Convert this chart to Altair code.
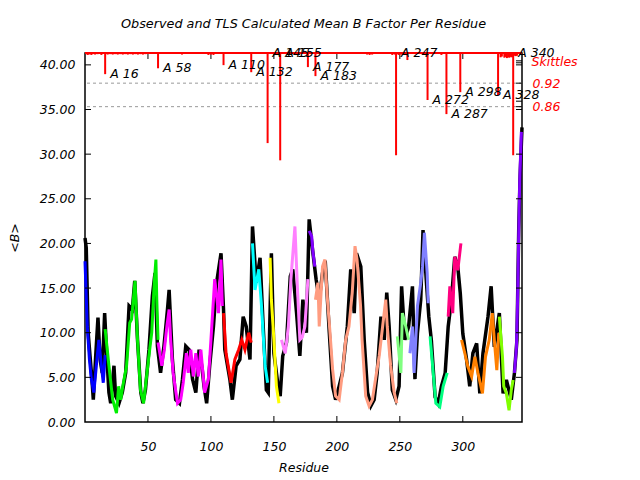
import altair as alt
import pandas as pd

# ---------------- data ----------------
obs_res = [0, 1, 2.5, 4, 5.5, 6.6, 8.5, 10.3, 12, 13.7, 15.6, 17.2, 19, 20.4, 23, 24.3, 27, 29.6, 32.3, 35,
           37.6, 39.5, 41.7, 44.3, 46, 48, 50.8, 53.5, 55.6, 57.5, 60, 62.7, 65.5, 66.8, 69.4, 72, 75, 77.4, 80, 82.7,
           85.4, 88, 90.6, 93, 94.5, 96.6, 99, 102, 104.5, 108, 110, 111, 115, 117, 120, 123, 125.6, 128, 131, 133,
           136, 139, 141.5, 144, 145.5, 148, 150, 153, 155, 157, 160, 163, 165, 168, 170.6, 173, 175.8, 178, 181, 183.5,
           186, 188.6, 191, 194, 196.6, 199, 201.8, 204.4, 208.3, 211, 213.8, 215.6, 219, 221.7, 224.4, 227, 229.6, 232, 235, 237.6,
           239.6, 241.5, 244, 246.8, 249.4, 251.4, 254, 257, 260, 262, 264, 266.6, 268.4, 271, 273, 275, 278, 280.5, 283, 286,
           288.4, 291, 293.6, 296, 298, 300, 303, 305.5, 308, 311, 313.5, 316, 320, 322.5, 325, 329, 332, 334.6, 338.5, 341,
           343, 344.4, 345.4, 347]
obs_b = [20.6, 19.5, 10, 7.4, 4.8, 2.5, 7.4, 11.7, 7, 5.5, 12.2, 7.7, 3.3, 2.1, 6.3, 2.9, 2.1, 3.3, 5.5, 13,
         12.6, 15.8, 9.2, 3.3, 2.1, 3.6, 8.1, 14.1, 16.7, 8.5, 5.5, 8.5, 12.6, 14.8, 7, 2.5, 2.1, 4.8, 8.5, 8.1,
         4.8, 3.3, 8.1, 6, 4, 2.1, 6.3, 10.7, 15.6, 18.9, 12.6, 8.1, 4.8, 2.5, 6.3, 7, 11.8, 10.7, 7, 21.9,
         15.6, 18.4, 10.7, 3.6, 3.3, 18.9, 7.7, 4.4, 2.9, 7.4, 8.9, 16.3, 17.1, 12.2, 7.4, 13.7, 10, 22.7, 18.9, 16,
         13.7, 16.7, 17.4, 10, 4, 2.5, 4, 5.5, 10.7, 17.1, 12.2, 18.9, 17.4, 9.2, 3.3, 1.8, 2.5, 5.5, 11.8, 9.2,
         14.5, 10.7, 3.6, 2.5, 4, 15.2, 9.2, 10.7, 15.2, 4.8, 10, 13.7, 21.5, 15.9, 11.8, 9.2, 2.8, 2.1, 4, 5.5,
         10.7, 13.7, 18.5, 17.4, 14.4, 9.9, 7, 4, 7.7, 8.8, 3.2, 7.7, 11.8, 15.2, 8.4, 12.2, 3.2, 4.7, 2.5, 5.5,
         9.2, 21.5, 27.1, 33]

group_names = ["A 1-16", "A 17-58", "A 59-110", "A 111-132", "A 133-145", "A 146-155", "A 156-177",
               "A 178-183", "A 184-247", "A 248-257", "A 258-272", "A 273-287", "A 288-298", "A 299-328",
               "A 329-340", "A 341-347"]
group_colors = ["#0000ff", "#00ee00", "#ff00ff", "#ff0000", "#00ffff", "#ffff00", "#ff80ff",
                "#8000ff", "#ff9c80", "#80ff80", "#8080ff", "#00ff80", "#ff0080", "#ff8000",
                "#80ff00", "#8000ff"]

g01_res = [0, 1.8, 3.5, 5, 7, 9, 11, 13, 14.5, 16]
g01_b = [18, 10.7, 7, 4.8, 3.3, 6.3, 9.2, 6.3, 4.4, 7.5]
g02_res = [16, 19, 22, 25, 26.7, 28.4, 30, 33, 35.5, 37, 39.7, 41.7, 44, 46.5, 48, 51, 53, 55, 56.3, 57, 58]
g02_b = [10.4, 6.3, 2.5, 1.0, 4, 2.5, 4, 6.3, 11.1, 11.5, 15.8, 9.2, 3.6, 2.1, 4, 7.7, 10, 15.6, 18.2, 13.7, 9.2]
g03_res = [58, 61, 63, 65, 66.8, 68, 70, 71.5, 73.5, 76, 78, 80.5, 82, 84, 86, 88, 90, 92, 95, 98, 100, 103, 106, 108, 109]
g03_b = [8.9, 6.3, 8.1, 10.7, 12.6, 9.2, 5.5, 4, 2.1, 2.5, 4.4, 7.7, 5.5, 8.1, 5.1, 7.7, 5.1, 8.1, 3.3, 4.8, 9.2, 16, 12.2, 18.2, 13]
g04_res = [110, 112, 116, 119, 122, 124.5, 127, 130, 132]
g04_b = [12.2, 7.7, 4.4, 7, 8.1, 9.2, 8.1, 10, 8.9]
g05_res = [133, 135, 138, 140, 143, 145]
g05_b = [20, 14.8, 17.1, 13.3, 6.3, 4.4]
g06_res = [147, 148, 150, 152, 154]
g06_b = [18.4, 13.7, 9.2, 4, 2.1]
g07_res = [156, 159, 161.5, 163.5, 166.7, 168.5, 170.6, 172.5, 174.6, 177]
g07_b = [9.2, 7.7, 10.7, 16, 21.9, 15.6, 9.2, 9.5, 10.7, 16]
g08_res = [178, 180, 181, 182.5]
g08_b = [21.4, 20.8, 19, 17.4]
g09_res = [183, 185, 186, 188.6, 190.5, 192.5, 194.4, 196.6, 199, 201.8, 204.4, 207, 209.6, 212.2, 214.4, 216,
           218.8, 220, 222.9, 225.6, 228.2, 231, 233.6, 236, 238.8, 240, 242.7, 245.5, 247.6]
g09_b = [13.7, 15.6, 10.7, 17.4, 18.2, 13.7, 10.3, 5.9, 2.9, 2.5, 5.5, 9.2, 10.7, 14.5, 19.7, 18.2,
         13, 9.2, 2.9, 1.8, 2.5, 5.1, 7.4, 10.3, 13.7, 10.7, 6.3, 3.3, 2.1]
g10_res = [248, 250.8, 252, 254.7, 257]
g10_b = [9.6, 5.5, 12.2, 10.7, 9.2]
g11_res = [258, 260, 261.3, 264, 266.6, 268, 269.5, 271.7, 272.5]
g11_b = [7.7, 10.7, 5.5, 13, 15.6, 17.4, 21.2, 16.7, 13.3]
g12_res = [274, 276.5, 278.6, 281.7, 284.4, 287.6]
g12_b = [9.6, 5.5, 2.1, 1.7, 4, 5.5]
g13_res = [288.4, 289.7, 292, 293.6, 296, 298.5]
g13_b = [11.8, 15.2, 12.2, 18.5, 17, 20]
g14_res = [299, 301.6, 304, 307, 309.6, 312, 315.6, 318, 321, 323.4, 325, 327, 328.6]
g14_b = [9.2, 7.7, 6.2, 5.1, 7.3, 5.5, 3.2, 7.3, 9.2, 12.2, 9.2, 5.8, 10]
g15_res = [329, 331.5, 332.5, 334.6, 336.7, 338.5, 340]
g15_b = [11.8, 7.3, 4, 3.2, 1.3, 3.6, 4.7]
g16_res = [341, 342.6, 343.5, 344.4, 345.2, 346.5]
g16_b = [5.5, 8.4, 13.7, 21.1, 27.1, 32.5]

# Skittles spikes (hanging from top)
spike_res = [16, 58, 110, 132, 145, 155, 177, 183, 247, 256, 272, 287, 298, 328, 340]
spike_val = [0.943, 0.958, 0.966, 0.948, 0.767, 0.723, 0.961, 0.938, 0.736, 0.979, 0.877, 0.841, 0.897, 0.889, 0.736]
small_res = [2, 3, 5, 6, 8, 10, 13, 18, 20, 22, 24, 26, 28, 30, 32, 34, 36, 38, 40, 42, 44, 46, 48,
             77, 98, 100, 102, 224, 226, 228, 244, 246, 249, 251, 253, 283,
             330, 331, 333, 334, 335, 336, 337, 338, 339, 341, 342, 343]
small_val = [0.992, 0.993, 0.992, 0.994, 0.993, 0.994, 0.992, 0.993, 0.994, 0.993, 0.994, 0.993, 0.994, 0.993, 0.994,
             0.993, 0.994, 0.993, 0.994, 0.993, 0.994, 0.993, 0.994,
             0.993, 0.992, 0.993, 0.992, 0.993, 0.992, 0.993, 0.992, 0.993, 0.992, 0.993, 0.992, 0.992,
             0.986, 0.988, 0.985, 0.987, 0.984, 0.986, 0.985, 0.987, 0.986, 0.99, 0.989, 0.99]

label_text = ["A 16", "A 58", "A 110", "A 132", "A 145", "A 155", "A 177", "A 183", "A 247",
              "A 272", "A 287", "A 298", "A 328", "A 340"]
label_res = [16, 58, 110, 132, 145, 155, 177, 183, 247, 272, 287, 298, 328, 340]
label_val = [0.943, 0.958, 0.966, 0.948, 0.997, 0.997, 0.961, 0.938, 0.997, 0.877, 0.841, 0.897, 0.889, 0.997]

b_ticks = [0, 5, 10, 15, 20, 25, 30, 35, 40]
x_ticks = [50, 100, 150, 200, 250, 300]
s_labels = [0.92, 0.86]
s_ticks = [0.977, 0.972, 0.92, 0.874, 0.86]

# ---------------- frames ----------------
W, H = 437, 369
FONT = "DejaVu Sans"
XDOM = [0, 347]
BDOM = [0, 41.33]
SDOM = [0.055, 0.997]

obs_df = pd.DataFrame({"res": obs_res, "B": obs_b})
g_res = [g01_res, g02_res, g03_res, g04_res, g05_res, g06_res, g07_res, g08_res, g09_res, g10_res,
         g11_res, g12_res, g13_res, g14_res, g15_res, g16_res]
g_b = [g01_b, g02_b, g03_b, g04_b, g05_b, g06_b, g07_b, g08_b, g09_b, g10_b,
       g11_b, g12_b, g13_b, g14_b, g15_b, g16_b]
rows = []
for name, rr, bb in zip(group_names, g_res, g_b):
    for r, b in zip(rr, bb):
        rows.append({"res": r, "B": b, "grp": name})
tls_df = pd.DataFrame(rows)

spikes_df = pd.DataFrame({"res": spike_res + small_res, "S": spike_val + small_val})
labels_df = pd.DataFrame({"res": label_res, "S": label_val, "txt": label_text})
bt_df = pd.DataFrame({"B": b_ticks[1:]})
xt_df = pd.DataFrame({"res": x_ticks})
sg_df = pd.DataFrame({"S": s_labels})
st_df = pd.DataFrame({"S": s_ticks})
one_df = pd.DataFrame({"k": [0]})

xs = alt.Scale(domain=XDOM, nice=False, zero=False)
bs = alt.Scale(domain=BDOM, nice=False, zero=False)
ss = alt.Scale(domain=SDOM, nice=False, zero=False)

x_enc = alt.X("res:Q", scale=xs,
              axis=alt.Axis(values=x_ticks, ticks=False, domain=False, grid=False, labelPadding=18,
                            title="Residue", titlePadding=9))

obs_line = alt.Chart(obs_df).mark_line(color="black", strokeWidth=3.5).encode(
    x=x_enc,
    y=alt.Y("B:Q", scale=bs,
            axis=alt.Axis(values=b_ticks, format=".2f", ticks=False, domain=False, grid=False,
                          labelPadding=10, title="<B>", titlePadding=18)),
)
tls_line = alt.Chart(tls_df).mark_line(strokeWidth=3).encode(
    x=alt.X("res:Q", scale=xs),
    y=alt.Y("B:Q", scale=bs),
    color=alt.Color("grp:N", scale=alt.Scale(domain=group_names, range=group_colors), legend=None),
    detail="grp:N",
)
left_ticks = alt.Chart(bt_df).mark_rule(color="black").encode(
    y=alt.Y("B:Q", scale=bs), x=alt.value(0), x2=alt.value(6))
right_ticks = alt.Chart(bt_df).mark_rule(color="black").encode(
    y=alt.Y("B:Q", scale=bs), x=alt.value(W - 6), x2=alt.value(W))
bot_ticks = alt.Chart(xt_df).mark_rule(color="black").encode(
    x=alt.X("res:Q", scale=xs), y=alt.value(H), y2=alt.value(H - 6))
top_ticks = alt.Chart(xt_df).mark_rule(color="black").encode(
    x=alt.X("res:Q", scale=xs), y=alt.value(0), y2=alt.value(6))

b_layer = alt.layer(obs_line, tls_line, left_ticks, right_ticks, bot_ticks, top_ticks)

grid = alt.Chart(sg_df).mark_rule(color="#999999", strokeDash=[3, 3], strokeWidth=1).encode(
    y=alt.Y("S:Q", scale=ss,
            axis=alt.Axis(orient="right", values=s_labels, format=".2f", ticks=False, domain=False,
                          grid=False, labelColor="red", labelPadding=10,
                          title="Skittles", titleColor="red", titleAngle=0, titleAlign="left",
                          titleBaseline="middle", titleX=9, titleY=8)))
spikes = alt.Chart(spikes_df).mark_rule(color="red", strokeWidth=2).encode(
    x=alt.X("res:Q", scale=xs), y=alt.Y("S:Q", scale=ss), y2=alt.value(0))
top_line = alt.Chart(one_df).mark_rule(color="red", strokeWidth=2).encode(
    x=alt.value(0), x2=alt.value(W), y=alt.value(0))
s_ticks_m = alt.Chart(st_df).mark_rule(color="black").encode(
    y=alt.Y("S:Q", scale=ss), x=alt.value(W - 6), x2=alt.value(W))
labels = alt.Chart(labels_df).mark_text(align="left", baseline="middle", dx=5, font=FONT,
                                        fontSize=12.5, fontStyle="italic", color="black").encode(
    x=alt.X("res:Q", scale=xs), y=alt.Y("S:Q", scale=ss), text="txt:N")

s_layer = alt.layer(grid, spikes, top_line, s_ticks_m, labels)

chart = alt.layer(b_layer, s_layer).resolve_scale(y="independent").properties(
    width=W, height=H,
    title=alt.TitleParams("Observed and TLS Calculated Mean B Factor Per Residue", fontSize=12.8,
                          font=FONT, fontStyle="italic", fontWeight="normal", anchor="middle", offset=16),
    autosize=alt.AutoSizeParams(type="none"),
    padding={"left": 77, "top": 45, "right": 110, "bottom": 70},
).configure_view(stroke="black", strokeWidth=1.5).configure_axis(
    labelFont=FONT, labelFontSize=12.5, labelFontStyle="italic", labelColor="black",
    titleFont=FONT, titleFontSize=12.5, titleFontStyle="italic", titleFontWeight="normal", titleColor="black",
)

chart.save("out.html", embed_options={"renderer": "svg", "actions": False})
